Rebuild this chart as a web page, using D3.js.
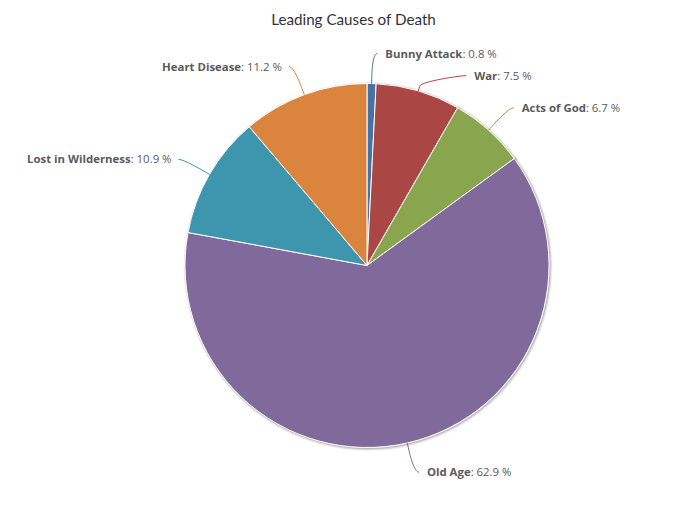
<!DOCTYPE html>
<html>
<head>
<meta charset="utf-8">
<script src="https://cdn.jsdelivr.net/npm/d3@7"></script>
<style>
  body { margin: 0; background: #fff; }
  svg { display: block; }
</style>
</head>
<body>
<svg width="682" height="506"></svg>
<script>
// Data
const names = ["Bunny Attack", "War", "Acts of God", "Old Age", "Lost in Wilderness", "Heart Disease"];
const shares = [0.8, 7.5, 6.7, 62.9, 10.9, 11.2];
const colors = ["#4572A7", "#AA4643", "#89A54E", "#80699B", "#3D96AE", "#DB843D"];

const data = names.map((n, i) => ({ name: n, value: shares[i], color: colors[i] }));

const fontFamily = "'Open Sans', 'DejaVu Sans', sans-serif";
const cx = 367, cy = 265.5, radius = 182;
const labelDistance = 30;
const labelGap = 22;

const svg = d3.select("svg");

// Title
svg.append("text")
    .attr("x", 353.5)
    .attr("y", 25)
    .attr("text-anchor", "middle")
    .style("font-family", "Lato, 'Open Sans', sans-serif")
    .style("font-size", "15.2px")
    .style("fill", "#333333")
    .text("Leading Causes of Death");

const pie = d3.pie().sort(null).value(d => d.value);
const arcs = pie(data);
const arc = d3.arc().innerRadius(0).outerRadius(radius);

const g = svg.append("g").attr("transform", `translate(${cx},${cy})`);

// Soft shadow, drawn the same way Highcharts does it (offset strokes)
[[5, 0.05], [3, 0.1], [1, 0.15]].forEach(([w, o]) => {
    g.append("g")
        .attr("transform", "translate(1,1)")
        .selectAll("path")
        .data(arcs)
        .enter().append("path")
        .attr("d", arc)
        .attr("fill", "none")
        .attr("stroke", "#000")
        .attr("stroke-opacity", o)
        .attr("stroke-width", w);
});

// Slices
g.selectAll(".slice")
    .data(arcs)
    .enter().append("path")
    .attr("class", "slice")
    .attr("d", arc)
    .attr("fill", d => d.data.color)
    .attr("stroke", "#fff")
    .attr("stroke-width", 1)
    .attr("stroke-linejoin", "round");

// Label placement: natural position outside the pie, then push apart on each side
const R = radius + labelDistance;
const labels = arcs.map(a => {
    const mid = (a.startAngle + a.endAngle) / 2;
    return {
        a: a,
        mid: mid,
        right: Math.sin(mid) >= 0,
        y: -Math.cos(mid) * R
    };
});
[true, false].forEach(side => {
    const list = labels.filter(l => l.right === side).sort((p, q) => p.y - q.y);
    for (let i = 1; i < list.length; i++) {
        if (list[i].y < list[i - 1].y + labelGap) list[i].y = list[i - 1].y + labelGap;
    }
});
labels.forEach(l => {
    const dx = Math.sqrt(Math.max(0, R * R - l.y * l.y));
    l.x = l.right ? dx : -dx;
});

// Connectors
const conn = svg.append("g").attr("transform", `translate(${cx},${cy})`);
conn.selectAll("path")
    .data(labels)
    .enter().append("path")
    .attr("d", l => {
        const s = l.right ? 1 : -1;
        const p4 = [Math.sin(l.mid) * radius, -Math.cos(l.mid) * radius];
        const p2 = [Math.sin(l.mid) * (radius + 5), -Math.cos(l.mid) * (radius + 5)];
        const c2 = [2 * p2[0] - p4[0], 2 * p2[1] - p4[1]];
        const path = d3.path();
        path.moveTo(l.x + s * 5, l.y);
        path.bezierCurveTo(l.x, l.y, c2[0], c2[1], p2[0], p2[1]);
        path.lineTo(p4[0], p4[1]);
        return path.toString();
    })
    .attr("fill", "none")
    .attr("stroke", l => l.a.data.color)
    .attr("stroke-width", 1);

// Label text
const txt = conn.selectAll("text")
    .data(labels)
    .enter().append("text")
    .attr("x", l => l.x + (l.right ? 13 : -12))
    .attr("y", l => l.y + 4)
    .attr("text-anchor", l => l.right ? "start" : "end")
    .style("font-family", fontFamily)
    .style("font-size", "11.4px")
    .style("fill", "#5a5a5a");
txt.append("tspan")
    .style("font-weight", "bold")
    .text(l => l.a.data.name);
txt.append("tspan")
    .text(l => ": " + l.a.data.value.toFixed(1) + " %");
</script>
</body>
</html>
